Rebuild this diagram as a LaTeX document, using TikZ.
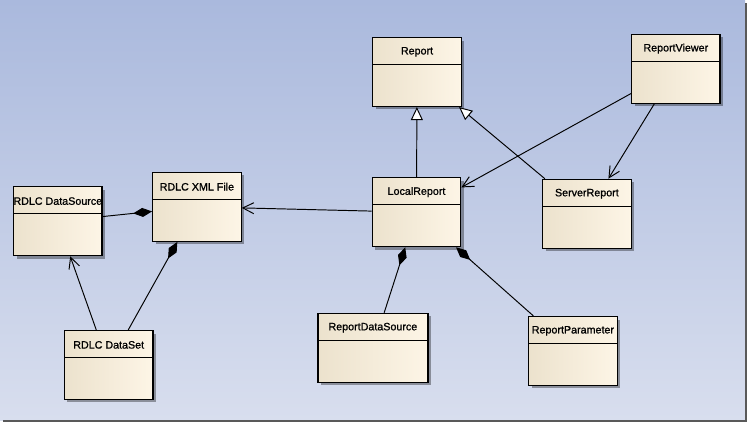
\documentclass[tikz,border=0pt]{standalone}
\usepackage{fontspec}
\newfontfamily\classfont[FakeBold=1]{Liberation Sans}
\usetikzlibrary{arrows.meta}
\definecolor{bgtop}{RGB}{170,185,221}
\definecolor{bgbottom}{RGB}{216,222,238}
\definecolor{boxleft}{RGB}{236,226,205}
\definecolor{boxright}{RGB}{253,245,230}
\tikzset{
  classbox/.style={draw, line width=0.7pt, minimum width=1.77cm, minimum height=1.38cm,
    left color=boxleft, right color=boxright,
    preaction={fill=black, opacity=0.35, transform canvas={xshift=0.06cm, yshift=-0.06cm}},
    path picture={\draw[line width=0.7pt] ([yshift=-0.54cm]path picture bounding box.north west) -- ([yshift=-0.54cm]path picture bounding box.north east);}},
  classname/.style={font=\classfont\fontsize{6.1}{7}\selectfont, inner sep=0pt},
  assoc/.style={line width=0.55pt, -{Straight Barb[length=0.22cm, width=0.22cm]}},
  generalize/.style={line width=0.55pt, -{Triangle[open, fill=white, length=0.26cm, width=0.24cm]}},
  compose/.style={line width=0.55pt, {Diamond[length=0.38cm, width=0.18cm]}-},
}
\begin{document}
\begin{tikzpicture}[x=0.02cm, y=-0.02cm]
\useasboundingbox (0,0) rectangle (749,425);
\shade[top color=bgtop, bottom color=bgbottom] (0,0) rectangle (745,420);
\draw[line width=0.05cm, black!65] (3,421.2) -- (746.2,421.2) -- (746.2,3);

\node[classbox] (report) at (417,72) {};
\node[classname] (reportname) at ([yshift=-0.3cm]report.north) {Report};
\node[classbox] (viewer) at (675.8,68.8) {};
\node[classname] (viewername) at ([yshift=-0.3cm]viewer.north) {ReportViewer};
\node[classbox] (local) at (416.5,212.2) {};
\node[classname] (localname) at ([yshift=-0.3cm]local.north) {LocalReport};
\node[classbox] (server) at (586.9,213.8) {};
\node[classname] (servername) at ([yshift=-0.3cm]server.north) {ServerReport};
\node[classbox] (xmlfile) at (196.9,206.8) {};
\node[classname] (xmlfilename) at ([yshift=-0.3cm]xmlfile.north) {RDLC XML File};
\node[classbox] (datasource) at (57.8,221.2) {};
\node[classname] (datasourcename) at ([yshift=-0.3cm]datasource.north) {RDLC DataSource};
\node[classbox] (dataset) at (108.7,365) {};
\node[classname] (datasetname) at ([yshift=-0.3cm]dataset.north) {RDLC DataSet};
\node[classbox, minimum width=2.2cm] (rdatasource) at (372.9,347.8) {};
\node[classname] (rdatasourcename) at ([yshift=-0.3cm]rdatasource.north) {ReportDataSource};
\node[classbox] (rparameter) at (572.9,351) {};
\node[classname] (rparametername) at ([yshift=-0.3cm]rparameter.north) {ReportParameter};

\draw[generalize] (local) -- (report);
\draw[generalize] (server) -- (report);
\draw[assoc] (viewer) -- (local);
\draw[assoc] (viewer) -- (server);
\draw[assoc] (local) -- (xmlfile);
\draw[assoc] (dataset) -- (datasource);
\draw[compose] (xmlfile) -- (datasource);
\draw[compose] (xmlfile) -- (dataset);
\draw[compose] (local) -- (rdatasource);
\draw[compose] (local) -- (rparameter);
\end{tikzpicture}
\end{document}
